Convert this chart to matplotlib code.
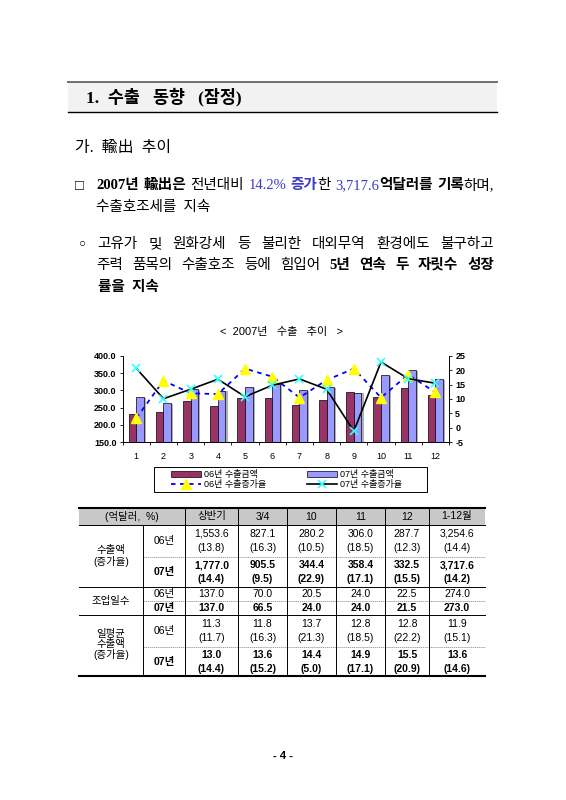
import matplotlib
matplotlib.use("Agg")
import matplotlib.pyplot as plt
from matplotlib.patches import Rectangle
import numpy as np

SERIF = ["Liberation Serif", "Noto Sans CJK KR"]
SANS = ["Liberation Sans", "Noto Sans CJK KR"]
BLUE = "#3a3ac8"

# chart data (Oct-Dec from the table)
months = list(range(1, 13))
exp06 = [231, 237, 268, 256, 278, 278, 258, 272, 294, 280.2, 306.0, 287.7]
exp07 = [280, 262, 303, 299, 309, 320, 300, 309, 293, 344.4, 358.4, 332.5]
gr06 = [3.3, 16.4, 12.0, 11.7, 20.6, 17.8, 10.5, 16.6, 20.6, 10.5, 18.5, 12.3]
gr07 = [20.7, 10.1, 13.4, 16.9, 10.8, 14.8, 17.0, 13.4, -1.2, 22.9, 17.1, 15.5]
legend_labels = ["06년 수출금액", "06년 수출증가율", "07년 수출금액", "07년 수출증가율"]

# table data
col_heads = ["상반기", "3/4", "10", "11", "12", "1-12월"]
amt06 = ["1,553.6", "827.1", "280.2", "306.0", "287.7", "3,254.6"]
amt06_g = ["(13.8)", "(16.3)", "(10.5)", "(18.5)", "(12.3)", "(14.4)"]
amt07 = ["1,777.0", "905.5", "344.4", "358.4", "332.5", "3,717.6"]
amt07_g = ["(14.4)", "(9.5)", "(22.9)", "(17.1)", "(15.5)", "(14.2)"]
days06 = ["137.0", "70.0", "20.5", "24.0", "22.5", "274.0"]
days07 = ["137.0", "66.5", "24.0", "24.0", "21.5", "273.0"]
daily06 = ["11.3", "11.8", "13.7", "12.8", "12.8", "11.9"]
daily06_g = ["(11.7)", "(16.3)", "(21.3)", "(18.5)", "(22.2)", "(15.1)"]
daily07 = ["13.0", "13.6", "14.4", "14.9", "15.5", "13.6"]
daily07_g = ["(14.4)", "(15.2)", "(5.0)", "(17.1)", "(20.9)", "(14.6)"]

fig = plt.figure(figsize=(5.66, 8), dpi=100)
pg = fig.add_axes([0, 0, 1, 1])
pg.set_xlim(0, 566)
pg.set_ylim(800, 0)
pg.axis("off")
rend = fig.canvas.get_renderer()


def put_line(x0, x1, y, words, size=10.5):
    '''draws words (lists of (text, bold, color)) spread from x0 to x1'''
    items = []
    total = 0
    for w in words:
        pieces = []
        for txt, bold, color in w:
            t = pg.text(0, y, txt, fontsize=size, family=SERIF, color=color,
                        fontweight="bold" if bold else "normal",
                        va="baseline", ha="left")
            wpx = t.get_window_extent(rend).width
            pieces.append((t, wpx))
            total += wpx
        items.append(pieces)
    gap = (x1 - x0 - total) / (len(words) - 1) if len(words) > 1 else 0
    x = x0
    for pieces in items:
        for t, wpx in pieces:
            t.set_x(x)
            x += wpx
        x += gap


# header box
pg.add_patch(Rectangle((68, 82), 429, 30, facecolor="#f2f2f2", edgecolor="none"))
pg.plot([68, 497], [82, 82], color="#707070", lw=1.4)
pg.plot([68, 497], [112, 112], color="black", lw=1.0)
pg.text(86, 102.5, "1.  수출   동향   (잠정)", fontsize=12.5, family=SERIF,
        fontweight="bold", va="baseline")

pg.text(75, 152, "가.  輸出  추이", fontsize=11.5, family=SERIF, va="baseline")

K = "black"
pg.text(75, 189.5, "□", fontsize=10.5, family=SERIF, va="baseline")
put_line(96.5, 494, 189, [
    [("2007년", True, K)], [("輸出은", True, K)], [("전년대비", False, K)],
    [("14.2%", False, BLUE)], [("증가", True, BLUE), ("한", False, K)],
    [("3,717.6", False, BLUE), ("억달러를", True, K)],
    [("기록", True, K), ("하며,", False, K)]])
pg.text(96.5, 211, "수출호조세를  지속", fontsize=10.5, family=SERIF, va="baseline")

pg.text(78.5, 247, "○", fontsize=8.5, family=SERIF, va="baseline")
put_line(97.5, 494, 248, [[(s, False, K)] for s in
         "고유가 및 원화강세 등 불리한 대외무역 환경에도 불구하고".split()])
put_line(96.5, 494, 269, [[(s, False, K)] for s in "주력 품목의 수출호조 등에 힘입어".split()]
         + [[(s, True, K)] for s in "5년 연속 두 자릿수 성장".split()])
pg.text(97.5, 291, "률을  지속", fontsize=10.5, family=SERIF, fontweight="bold", va="baseline")

# chart
pg.text(282, 332, "<  2007년   수출   추이   >", fontsize=8, family=SANS,
        ha="center", va="center")

ax = fig.add_axes([122.7 / 566, 1 - 442 / 800, 326.3 / 566, 86 / 800])
x = np.array(months)
w = 0.28
ax.bar(x + w / 2 + 0.08, np.array(exp07) - 2, w, color="#b0b0b0", zorder=1)
ax.bar(x - w / 2, exp06, w, color="#993366", edgecolor="black", lw=0.5, zorder=2)
ax.bar(x + w / 2, exp07, w, color="#9999ff", edgecolor="black", lw=0.5, zorder=2)
ax.set_xlim(0.5, 12.5)
ax.set_ylim(150, 400)
ax.set_yticks(range(150, 401, 50))
ax.set_yticklabels(["%.1f" % v for v in range(150, 401, 50)],
                   fontsize=6.5, fontweight="bold", family=SANS)
ax.set_xticks(months)
ax.set_xticklabels([str(m) for m in months], fontsize=6.5, family=SANS)
ax.set_xticks(np.arange(0.5, 13, 1), minor=True)
ax.tick_params(axis="x", which="major", length=0, pad=7)
ax.tick_params(axis="x", which="minor", length=2.5, width=0.6)
ax.tick_params(axis="y", length=2.5, width=0.6, pad=2)
ax.spines["top"].set_visible(False)
ax.spines["right"].set_visible(False)
for s in ("left", "bottom"):
    ax.spines[s].set_linewidth(0.7)

ax2 = ax.twinx()
l06, = ax2.plot(x, gr06, color="#0000ff", ls=(0, (2.5, 2.5)), lw=1.3,
                marker="^", ms=7, mfc="#ffff00", mec="#ffff00", zorder=3)
l07, = ax2.plot(x, gr07, color="black", lw=1.2, marker="x", ms=6,
                mec="#33ffff", mew=1.2, zorder=4)
ax2.set_ylim(-5, 25)
ax2.set_yticks(range(-5, 26, 5))
ax2.set_yticklabels([str(v) for v in range(-5, 26, 5)], fontsize=6.5,
                    fontweight="bold", family=SANS)
ax2.tick_params(axis="y", length=2.5, width=0.6, pad=2)
for s in ("top", "left", "bottom"):
    ax2.spines[s].set_visible(False)
ax2.spines["right"].set_linewidth(0.7)

# legend: box drawn on the page, entries placed inside it
pg.add_patch(Rectangle((154, 467), 273, 25, facecolor="white", edgecolor="black", lw=0.7))
h06 = Rectangle((0, 0), 1, 1, facecolor="#993366", edgecolor="black", lw=0.5)
h07 = Rectangle((0, 0), 1, 1, facecolor="#9999ff", edgecolor="black", lw=0.5)
fig.legend([h06, l06, h07, l07], legend_labels, ncol=2, loc="upper left",
           bbox_to_anchor=(171 / 566, 1 - 470.5 / 800), frameon=False,
           prop={"family": SANS, "size": 6.5}, handlelength=3.3,
           handleheight=0.6, borderaxespad=0, borderpad=0,
           labelspacing=0.1, handletextpad=0.3, columnspacing=4.6)

# table
cx = [79, 143, 185, 238, 287, 336, 385, 429, 485]
pg.add_patch(Rectangle((79, 508), 406, 17, facecolor="#c8c8c8", edgecolor="none"))
pg.plot([79, 485], [508, 508], color="black", lw=1.5)
for yy in (525, 587, 615):
    pg.plot([79, 485], [yy, yy], color="black", lw=0.7)
pg.plot([79, 485], [676, 676], color="black", lw=1.5)
for yy in (557, 601, 647):
    pg.plot([143, 485], [yy, yy], color="#808080", lw=0.5, ls=(0, (2, 1)))
pg.plot([143, 143], [525, 676], color="black", lw=0.7)
for xx in cx[2:-1]:
    pg.plot([xx, xx], [508, 676], color="black", lw=0.7)

TS = 7.5
centers = [(cx[i] + cx[i + 1]) / 2 for i in range(2, 8)]
pg.text(132, 516.5, "(억달러,  %)", fontsize=TS, family=SANS, ha="center", va="center")
for cc, h in zip(centers, col_heads):
    pg.text(cc, 516.5, h, fontsize=TS, family=SANS, ha="center", va="center")

pg.text(111, 556, "수출액\n(증가율)", fontsize=TS, family=SANS, ha="center",
        va="center", linespacing=1.1)
pg.text(111, 601, "조업일수", fontsize=TS, family=SANS, ha="center", va="center")
pg.text(111, 645, "일평균\n수출액\n(증가율)", fontsize=TS, family=SANS, ha="center",
        va="center", linespacing=1.0)

rows = [(541, "06년", False, amt06, amt06_g), (572, "07년", True, amt07, amt07_g),
        (594, "06년", False, days06, None), (608, "07년", True, days07, None),
        (631, "06년", False, daily06, daily06_g), (661.5, "07년", True, daily07, daily07_g)]
for yc, yr, bold, vals, grs in rows:
    fw = "bold" if bold else "normal"
    pg.text(164, yc, yr, fontsize=TS, family=SANS, fontweight=fw, ha="center", va="center")
    if grs is None:
        for cc, v in zip(centers, vals):
            pg.text(cc, yc, v, fontsize=TS, family=SANS, fontweight=fw,
                    ha="center", va="center")
    else:
        for cc, v, g in zip(centers, vals, grs):
            pg.text(cc, yc - 7, v, fontsize=TS, family=SANS, fontweight=fw,
                    ha="center", va="center")
            pg.text(cc, yc + 7, g, fontsize=TS, family=SANS, fontweight=fw,
                    ha="center", va="center")

pg.text(283, 756, "- 4 -", fontsize=8, family=SANS, fontweight="bold",
        ha="center", va="center")

fig.savefig("out.png", dpi=100)
